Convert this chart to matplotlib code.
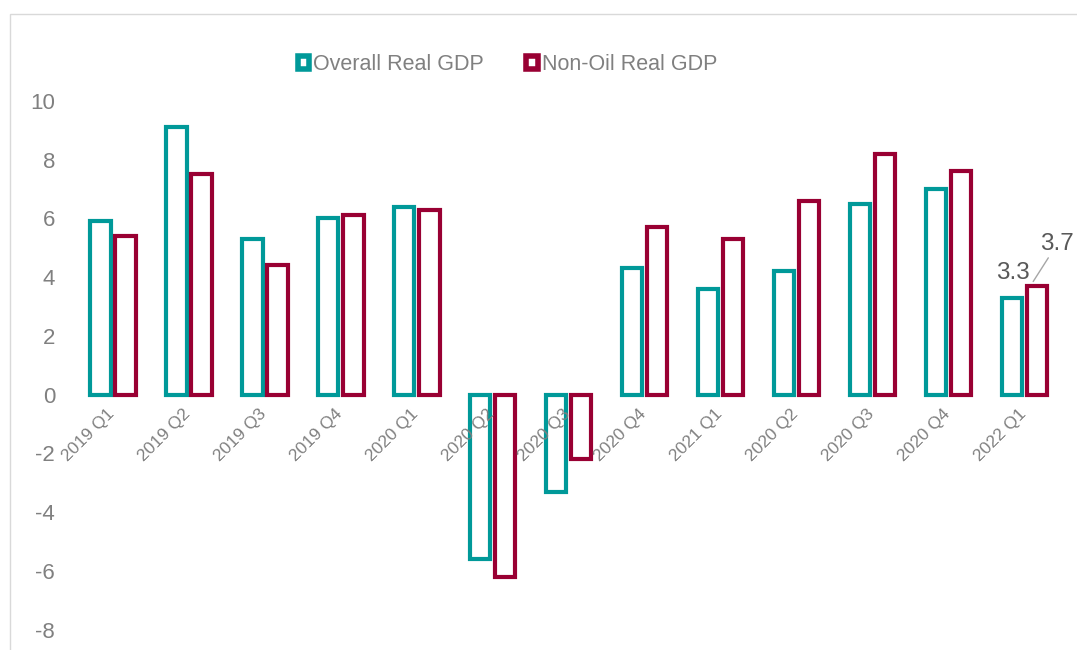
import numpy as np
import matplotlib.pyplot as plt
from matplotlib.patches import Patch, Rectangle

plt.rcParams['font.family'] = ['Liberation Sans', 'DejaVu Sans']
plt.rcParams['axes.unicode_minus'] = False

# Data
quarters = ['2019 Q1', '2019 Q2', '2019 Q3', '2019 Q4', '2020 Q1', '2020 Q2', '2020 Q3',
            '2020 Q4', '2021 Q1', '2020 Q2', '2020 Q3', '2020 Q4', '2022 Q1']
overall = [5.9, 9.1, 5.3, 6.0, 6.4, -5.6, -3.3, 4.3, 3.6, 4.2, 6.5, 7.0, 3.3]
non_oil = [5.4, 7.5, 4.4, 6.1, 6.3, -6.2, -2.2, 5.7, 5.3, 6.6, 8.2, 7.6, 3.7]

teal = '#009999'
crimson = '#990033'
grey = '#808080'

fig = plt.figure(figsize=(10.77, 6.5), dpi=100)
ax = fig.add_axes([0.066, 0.031, 0.924, 0.814])

x = np.arange(len(quarters))
off = 0.165
w = 0.27
ax.bar(x - off, overall, w, facecolor='white', edgecolor=teal, linewidth=3)
ax.bar(x + off, non_oil, w, facecolor='white', edgecolor=crimson, linewidth=3)

ax.set_xlim(-0.55, 12.55)
ax.set_ylim(-8, 10)
ax.set_yticks(range(-8, 11, 2))
ax.tick_params(axis='y', length=0, labelsize=16, labelcolor=grey, pad=11.5)
ax.set_xticks([])
for s in ax.spines.values():
    s.set_visible(False)

# category labels just under the zero line
for i, q in enumerate(quarters):
    ax.text(i - 0.08, -0.4, q, rotation=45, ha='right', va='top', rotation_mode='anchor',
            fontsize=12.5, color=grey)

# data labels for last quarter
ax.text(12 - off + 0.02, 3.75, '3.3', ha='center', va='bottom', fontsize=17.5, color='#595959')
ax.annotate('3.7', xy=(12 + off - 0.05, 3.85), xytext=(12.43, 4.75),
            ha='center', va='bottom', fontsize=17.5, color='#595959',
            arrowprops=dict(arrowstyle='-', color='#a6a6a6', lw=1,
                            shrinkA=0, shrinkB=0))

handles = [Patch(facecolor='white', edgecolor=teal, linewidth=4, label='Overall Real GDP'),
           Patch(facecolor='white', edgecolor=crimson, linewidth=4, label='Non-Oil Real GDP')]
leg = fig.legend(handles=handles, loc='center', bbox_to_anchor=(0.471, 0.9),
                 ncol=2, frameon=False, fontsize=15.5, handlelength=0.55, handleheight=0.55,
                 handletextpad=0.15, columnspacing=2.0)
for t in leg.get_texts():
    t.set_color(grey)

# light chart border
fig.patches.append(Rectangle((10 / 1077, -0.1), 1.1, 1.1 - 14 / 650, transform=fig.transFigure,
                             fill=False, edgecolor='#d9d9d9', linewidth=1))

fig.savefig('out.png', dpi=100)
